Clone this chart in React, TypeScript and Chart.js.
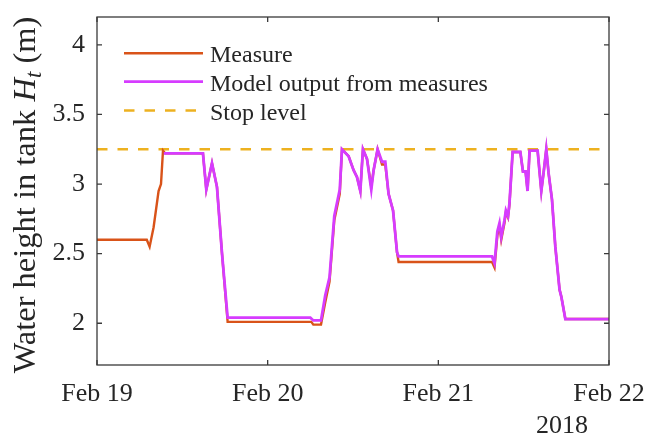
import React, { useEffect, useRef } from 'react';
import { Chart, registerables } from 'chart.js';

Chart.register(...registerables);

// ---- data ----
const dayLabels = ['Feb 19', 'Feb 20', 'Feb 21', 'Feb 22'];
const dayTicks = [0, 24, 48, 72]; // hours since Feb 19 00:00
const yTicks = [2, 2.5, 3, 3.5, 4];
const yearLabel = '2018';
const stopLevel = 3.25;

const measureHours = [
  0, 7.0, 7.4, 7.96, 8.66, 9.0, 9.28, 9.6, 14.9, 15.37,
  16.17, 16.87, 17.58, 18.37, 30.14, 30.42, 31.5, 32.1, 32.7, 33.37,
  34.14, 34.45, 35.38, 36.08, 36.56, 37.03, 37.4, 37.97, 38.57, 38.9,
  39.46, 40.08, 40.54, 41.0, 41.63, 42.19, 42.41, 55.55, 55.9, 56.3,
  56.6, 56.85, 57.3, 57.5, 57.8, 58.0, 58.45, 59.53, 59.9, 60.27,
  60.55, 60.83, 61.96, 62.48, 62.8, 63.18, 63.5, 63.98, 64.45, 65.05,
  65.3, 65.86, 72,
];
const measureValues = [
  2.60, 2.60, 2.55, 2.69, 2.95, 3.00, 3.24, 3.22, 3.22, 2.96,
  3.15, 2.98, 2.50, 2.01, 2.01, 1.99, 1.99, 2.15, 2.30, 2.74,
  2.93, 3.25, 3.20, 3.10, 3.05, 2.95, 3.25, 3.18, 2.98, 3.10,
  3.25, 3.14, 3.14, 2.93, 2.81, 2.51, 2.44, 2.44, 2.40, 2.63,
  2.70, 2.60, 2.72, 2.80, 2.76, 2.85, 3.23, 3.23, 3.09, 3.09,
  2.95, 3.24, 3.24, 2.95, 3.08, 3.25, 3.08, 2.89, 2.55, 2.24,
  2.19, 2.03, 2.03,
];

const modelHours = [
  9.4, 14.9, 15.37, 16.17, 16.87, 17.58, 18.37, 30.0, 30.42, 31.5,
  32.1, 32.7, 33.37, 34.14, 34.45, 35.38, 36.08, 36.56, 37.03, 37.4,
  37.97, 38.57, 38.9, 39.46, 40.08, 40.54, 41.0, 41.63, 42.19, 42.41,
  55.55, 55.9, 56.3, 56.6, 56.85, 57.3, 57.5, 57.8, 58.0, 58.45,
  59.53, 59.9, 60.27, 60.55, 60.83, 61.96, 62.48, 62.8, 63.18, 63.5,
  63.98, 64.45, 65.05, 65.3, 65.86, 72,
];
const modelValues = [
  3.22, 3.22, 2.96, 3.15, 2.98, 2.50, 2.04, 2.04, 2.02, 2.02,
  2.20, 2.33, 2.77, 2.96, 3.25, 3.20, 3.10, 3.05, 2.95, 3.25,
  3.18, 2.96, 3.10, 3.25, 3.16, 3.16, 2.93, 2.81, 2.51, 2.48,
  2.48, 2.43, 2.66, 2.72, 2.62, 2.74, 2.81, 2.77, 2.86, 3.23,
  3.23, 3.09, 3.09, 2.95, 3.24, 3.24, 2.95, 3.08, 3.25, 3.08,
  2.89, 2.55, 2.24, 2.19, 2.03, 2.03,
];

const seriesNames = ['Measure', 'Model output from measures', 'Stop level'];

// ---- styles ----
const SERIF = "'Liberation Serif', 'Times New Roman', serif";
const TEXT = '#262626';
const ORANGE = '#D95319';
const PURPLE = '#D63CFF';
const YELLOW = '#EDB120';
const STOP_DASH = [10.5, 10];

const decorPlugin = {
  id: 'decor',
  afterDraw(chart: any) {
    const { ctx, chartArea: a, scales } = chart;
    const xs = scales.x;
    const ys = scales.y;
    ctx.save();
    // box
    ctx.strokeStyle = '#3a3a3a';
    ctx.lineWidth = 1.3;
    ctx.strokeRect(a.left, a.top, a.right - a.left, a.bottom - a.top);
    // inner ticks
    const tl = 5;
    ctx.beginPath();
    dayTicks.forEach((v) => {
      const px = xs.getPixelForValue(v);
      ctx.moveTo(px, a.bottom);
      ctx.lineTo(px, a.bottom - tl);
      ctx.moveTo(px, a.top);
      ctx.lineTo(px, a.top + tl);
    });
    yTicks.forEach((v) => {
      const py = ys.getPixelForValue(v);
      ctx.moveTo(a.left, py);
      ctx.lineTo(a.left + tl, py);
      ctx.moveTo(a.right, py);
      ctx.lineTo(a.right - tl, py);
    });
    ctx.stroke();

    // legend
    const colors = [ORANGE, PURPLE, YELLOW];
    const widths0 = [2.4, 2.8, 2.4];
    const dashes = [[], [], STOP_DASH];
    const rows = [53.3, 81.7, 110.5];
    ctx.font = `24px ${SERIF}`;
    ctx.textAlign = 'left';
    ctx.textBaseline = 'alphabetic';
    seriesNames.forEach((name, i) => {
      ctx.beginPath();
      ctx.setLineDash(dashes[i]);
      ctx.strokeStyle = colors[i];
      ctx.lineWidth = widths0[i];
      ctx.moveTo(124, rows[i]);
      ctx.lineTo(203, rows[i]);
      ctx.stroke();
      ctx.setLineDash([]);
      ctx.fillStyle = TEXT;
      ctx.fillText(name, 210, rows[i] + 9);
    });

    // year label
    ctx.font = `26px ${SERIF}`;
    ctx.textAlign = 'center';
    ctx.fillStyle = TEXT;
    ctx.fillText(yearLabel, 562, 433);

    // y axis title
    const fs = 32.5;
    const parts = [
      { t: 'Water height in tank ', f: `${fs}px ${SERIF}`, dy: 0 },
      { t: 'H', f: `italic ${fs}px ${SERIF}`, dy: 0 },
      { t: 't', f: `italic ${Math.round(fs * 0.7)}px ${SERIF}`, dy: 6 },
      { t: ' (m)', f: `${fs}px ${SERIF}`, dy: 0 },
    ];
    let total = 0;
    const widths = parts.map((p) => {
      ctx.font = p.f;
      const w = ctx.measureText(p.t).width;
      total += w;
      return w;
    });
    ctx.translate(35, 195);
    ctx.rotate(-Math.PI / 2);
    ctx.textAlign = 'left';
    let x = -total / 2;
    parts.forEach((p, i) => {
      ctx.font = p.f;
      ctx.fillText(p.t, x, p.dy);
      x += widths[i];
    });
    ctx.restore();
  },
};

const zeroPad = (s: any) => {
  s.paddingLeft = 0;
  s.paddingRight = 0;
  s.paddingTop = 0;
  s.paddingBottom = 0;
};

export default function App() {
  const ref = useRef<HTMLCanvasElement>(null);
  useEffect(() => {
    if (!ref.current) return;
    const measure = measureHours.map((h, i) => ({ x: h, y: measureValues[i] }));
    const model = modelHours.map((h, i) => ({ x: h, y: modelValues[i] }));
    const stop = [
      { x: dayTicks[0], y: stopLevel },
      { x: dayTicks[dayTicks.length - 1], y: stopLevel },
    ];
    const chart = new Chart(ref.current, {
      type: 'line',
      data: {
        datasets: [
          { label: seriesNames[0], data: measure, borderColor: ORANGE, borderWidth: 2.4, pointRadius: 0, tension: 0, order: 1 },
          { label: seriesNames[1], data: model, borderColor: PURPLE, borderWidth: 2.8, pointRadius: 0, tension: 0, order: 0 },
          { label: seriesNames[2], data: stop, borderColor: YELLOW, borderWidth: 2.4, borderDash: STOP_DASH, pointRadius: 0, order: 2 },
        ],
      },
      options: {
        animation: false,
        responsive: false,
        maintainAspectRatio: false,
        layout: { padding: { left: 0, top: 17, right: 37, bottom: 0 } },
        plugins: { legend: { display: false }, tooltip: { enabled: false } },
        scales: {
          x: {
            type: 'linear',
            min: 0,
            max: 72,
            grid: { display: false, drawTicks: false },
            border: { display: false },
            afterBuildTicks: (s: any) => {
              s.ticks = dayTicks.map((v) => ({ value: v }));
            },
            afterFit: (s: any) => {
              s.height = 74;
              zeroPad(s);
            },
            ticks: {
              autoSkip: false,
              maxRotation: 0,
              padding: 14,
              color: TEXT,
              font: { family: SERIF, size: 26 },
              callback: (v: any) => dayLabels[dayTicks.indexOf(Number(v))] ?? '',
            },
          },
          y: {
            type: 'linear',
            min: 1.7,
            max: 4.2,
            grid: { display: false, drawTicks: false },
            border: { display: false },
            afterBuildTicks: (s: any) => {
              s.ticks = yTicks.map((v) => ({ value: v }));
            },
            afterFit: (s: any) => {
              s.width = 97;
              zeroPad(s);
            },
            ticks: {
              padding: 12,
              color: TEXT,
              font: { family: SERIF, size: 26 },
              callback: (v: any) => String(v),
            },
          },
        },
      },
      plugins: [decorPlugin],
    });
    return () => chart.destroy();
  }, []);
  return (
    <div style={{ position: 'fixed', left: 0, top: 0, width: 646, height: 439, background: '#fff' }}>
      <canvas ref={ref} width={646} height={439} style={{ width: 646, height: 439 }} />
    </div>
  );
}
